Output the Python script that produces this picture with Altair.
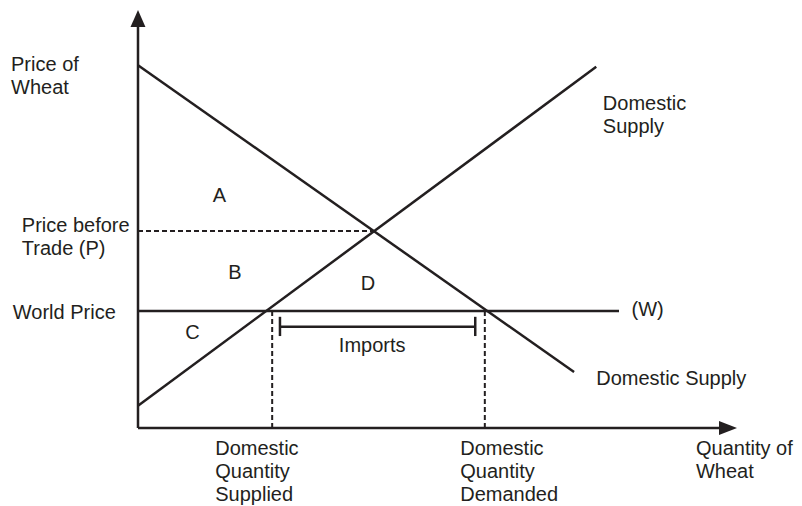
import altair as alt
import pandas as pd

# ---- values (quantity, price units; axes 0..100) ----
demand_q = [0, 72.8]
demand_p = [86.8, 13.4]
supply_q = [0, 76.5]
supply_p = [5.3, 86.4]
world_price = 28.0
world_q_end = 80.3
pre_trade_q = 39.2
pre_trade_p = 47.1
qty_supplied = 22.4
qty_demanded = 57.9
imports_q = [23.7, 56.3]
imports_p = 24.2
imports_tick_p = [22.0, 26.6]
y_axis_top = 96.0
x_axis_end = 97.0

left_labels = ["Price of\nWheat", "Domestic\nSupply", "Price before\nTrade (P)",
               "World Price", "(W)", "Domestic Supply",
               "Domestic\nQuantity\nSupplied", "Domestic\nQuantity\nDemanded",
               "Quantity of\nWheat"]
left_q = [-21.2, 77.6, -19.4, -20.9, 82.4, 76.5, 12.9, 53.8, 93.15]
left_p = [85.4, 76.1, 47.0, 26.1, 26.8, 10.3, -6.5, -6.5, -6.5]

center_labels = ["A", "B", "C", "D", "Imports"]
center_q = [13.6, 16.2, 9.1, 38.4, 39.1]
center_p = [54.1, 35.6, 21.3, 33.0, 18.3]

INK = "#231f20"
W, H = 786, 498
px_q, px_p = 5.99, 4.18
q_min = -130 / px_q
q_max = q_min + W / px_q
p_max = 420 / px_p
p_min = p_max - H / px_p

xs = alt.Scale(domain=[q_min, q_max], nice=False, zero=False)
ys = alt.Scale(domain=[p_min, p_max], nice=False, zero=False)

solid = pd.DataFrame([
    (0, 0, 0, y_axis_top),
    (0, 0, x_axis_end, 0),
    (demand_q[0], demand_p[0], demand_q[1], demand_p[1]),
    (supply_q[0], supply_p[0], supply_q[1], supply_p[1]),
    (0, world_price, world_q_end, world_price),
    (imports_q[0], imports_p, imports_q[1], imports_p),
    (imports_q[0], imports_tick_p[0], imports_q[0], imports_tick_p[1]),
    (imports_q[1], imports_tick_p[0], imports_q[1], imports_tick_p[1]),
], columns=["q", "p", "q2", "p2"])

dashed = pd.DataFrame([
    (0, pre_trade_p, pre_trade_q, pre_trade_p),
    (qty_supplied, 0, qty_supplied, world_price),
    (qty_demanded, 0, qty_demanded, world_price),
], columns=["q", "p", "q2", "p2"])

enc = dict(x=alt.X("q:Q", scale=xs, axis=None), y=alt.Y("p:Q", scale=ys, axis=None),
           x2="q2:Q", y2="p2:Q")

solid_layer = alt.Chart(solid).mark_rule(color=INK, strokeWidth=2.5).encode(**enc)
dashed_layer = alt.Chart(dashed).mark_rule(color=INK, strokeWidth=2, strokeDash=[5, 3]).encode(**enc)

up_arrow = alt.Chart(pd.DataFrame({"q": [0], "p": [100]})).mark_point(
    shape="M0,0L-0.44,1L0.44,1Z", size=1156, filled=True, color=INK, opacity=1, strokeWidth=0
).encode(x=alt.X("q:Q", scale=xs, axis=None), y=alt.Y("p:Q", scale=ys, axis=None))

right_arrow = alt.Chart(pd.DataFrame({"q": [100], "p": [0]})).mark_point(
    shape="M0,0L-1,-0.39L-1,0.39Z", size=1296, filled=True, color=INK, opacity=1, strokeWidth=0
).encode(x=alt.X("q:Q", scale=xs, axis=None), y=alt.Y("p:Q", scale=ys, axis=None))

txt_left = alt.Chart(pd.DataFrame({"t": left_labels, "q": left_q, "p": left_p})).mark_text(
    align="left", baseline="alphabetic", font="Liberation Sans", fontSize=20,
    lineHeight=23, lineBreak="\n", color=INK
).encode(x=alt.X("q:Q", scale=xs, axis=None), y=alt.Y("p:Q", scale=ys, axis=None), text="t:N")

txt_center = alt.Chart(pd.DataFrame({"t": center_labels, "q": center_q, "p": center_p})).mark_text(
    align="center", baseline="alphabetic", font="Liberation Sans", fontSize=20, color=INK
).encode(x=alt.X("q:Q", scale=xs, axis=None), y=alt.Y("p:Q", scale=ys, axis=None), text="t:N")

chart = alt.layer(solid_layer, dashed_layer, up_arrow, right_arrow, txt_left, txt_center).properties(
    width=W, height=H, autosize=alt.AutoSizeParams(type="none"), padding=0, background="white"
).configure_view(stroke=None)

chart.save("out.html", embed_options={"renderer": "svg", "actions": False})
